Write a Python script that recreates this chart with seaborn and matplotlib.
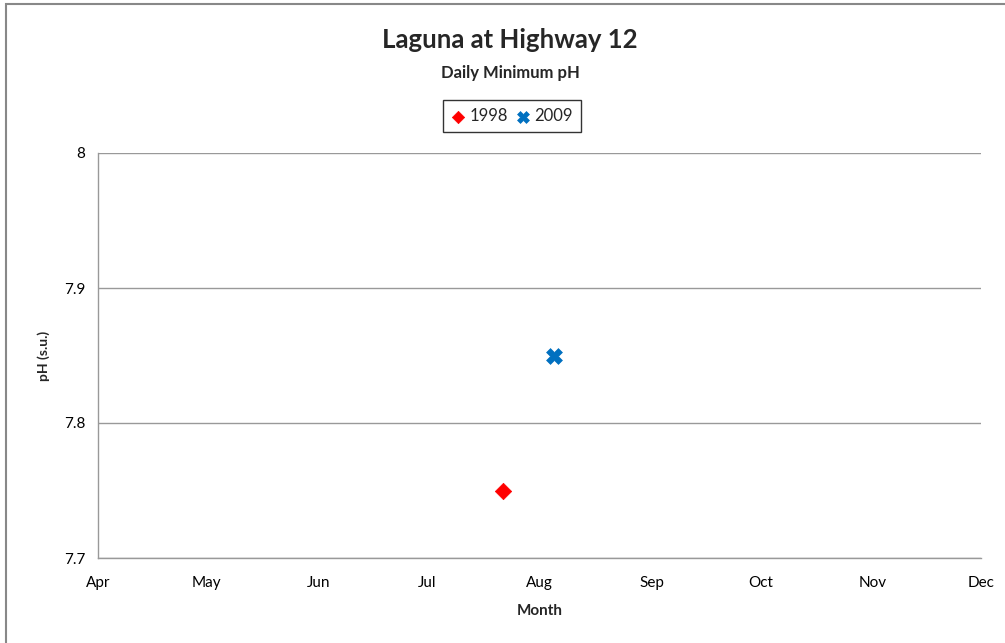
import matplotlib
matplotlib.use("Agg")
import matplotlib.pyplot as plt
import matplotlib.dates as mdates
import seaborn as sns
import pandas as pd
from matplotlib.patches import Rectangle

# Data (month-day plotted on a common year)
series = ["1998", "2009"]
dates = ["2000-07-22", "2000-08-05"]
ph_min = [7.75, 7.85]
month_ticks = ["2000-04-01", "2000-05-01", "2000-06-01", "2000-07-01", "2000-08-01",
               "2000-09-01", "2000-10-01", "2000-11-01", "2000-12-01"]
y_ticks = [7.7, 7.8, 7.9, 8.0]
y_tick_labels = ["7.7", "7.8", "7.9", "8"]

sns.set_theme(style="white")
plt.rcParams['font.family'] = ['Lato', 'DejaVu Sans']

df = pd.DataFrame({"Year": series, "Date": pd.to_datetime(dates), "pH": ph_min})

fig = plt.figure(figsize=(10.05, 6.43), dpi=100)
ax = fig.add_axes([98/1005, 1-558/643, (981-98)/1005, (558-153)/643])

palette = {"1998": "#FF0000", "2009": "#0070C0"}
markers = {"1998": "D", "2009": "X"}
sizes = {"1998": 70, "2009": 130}
for yr in series:
    sub = df[df["Year"] == yr]
    sns.scatterplot(data=sub, x="Date", y="pH", ax=ax, color=palette[yr],
                    marker=markers[yr], s=sizes[yr], edgecolor=palette[yr],
                    linewidth=0.5, label=yr, zorder=3)

ax.set_xlim(pd.Timestamp(month_ticks[0]), pd.Timestamp(month_ticks[-1]))
ax.set_ylim(7.7, 8.0)
ax.set_xticks(pd.to_datetime(month_ticks))
ax.xaxis.set_major_formatter(mdates.DateFormatter("%b"))
ax.set_yticks(y_ticks)
ax.set_yticklabels(y_tick_labels)
ax.yaxis.grid(True, color="#999999", linewidth=1)
ax.xaxis.grid(False)
for s in ["top", "right"]:
    ax.spines[s].set_visible(False)
for s in ["left", "bottom"]:
    ax.spines[s].set_color("#999999")
    ax.spines[s].set_linewidth(1)
ax.tick_params(axis="both", which="both", direction="out", length=5, width=1,
               color="#999999", labelsize=11, labelcolor="black", pad=6)
ax.tick_params(axis="y", pad=4)
ax.tick_params(axis="x", pad=8)

ax.set_xlabel("Month", fontsize=11, fontweight="bold", labelpad=10)
ax.set_ylabel("pH (s.u.)", fontsize=10, fontweight="bold", labelpad=10)

fig.text(510/1005, 1-40/643, "Laguna at Highway 12", ha="center", va="center",
         fontsize=18.5, fontweight="bold")
fig.text(510/1005, 1-73/643, "Daily Minimum pH", ha="center", va="center",
         fontsize=12, fontweight="bold")

leg = ax.legend(loc="center", bbox_to_anchor=(512/1005, 1-116/643),
                bbox_transform=fig.transFigure, ncol=2, frameon=True,
                fontsize=12, handletextpad=0.3, columnspacing=0.5,
                borderpad=0.5, handlelength=0.8, fancybox=False, markerscale=0.75)
leg.get_frame().set_edgecolor("black")
leg.get_frame().set_linewidth(1)

fig.patches.append(Rectangle((6/1005, -0.05), 1.1, 1 - 4/643 + 0.05,
                             transform=fig.transFigure, fill=False,
                             edgecolor="#888888", linewidth=1.5))

fig.savefig("out.png", dpi=100)
